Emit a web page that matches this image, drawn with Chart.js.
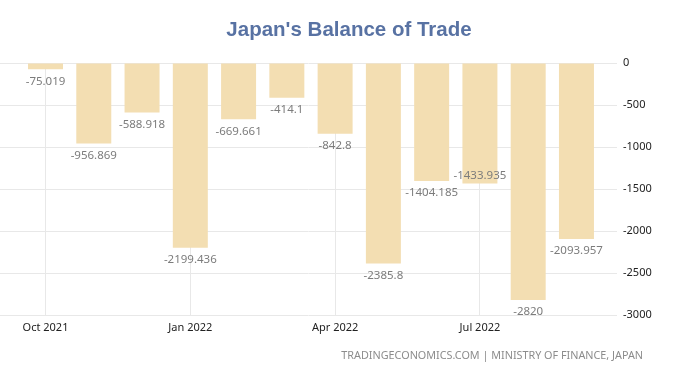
<!DOCTYPE html>
<html>
<head>
<meta charset="utf-8">
<script src="https://cdn.jsdelivr.net/npm/chart.js@4.4.0/dist/chart.umd.min.js"></script>
<style>
  html, body { margin: 0; padding: 0; background: #ffffff; }
  #wrap { width: 700px; height: 379px; position: relative; }
</style>
</head>
<body>
<div id="wrap"><canvas id="c" width="700" height="379"></canvas></div>
<script>
// ---- data ----
const months = ['Oct 2021','Nov 2021','Dec 2021','Jan 2022','Feb 2022','Mar 2022',
                'Apr 2022','May 2022','Jun 2022','Jul 2022','Aug 2022','Sep 2022'];
const balance = [-75.019, -956.869, -588.918, -2199.436, -669.661, -414.1,
                 -842.8, -2385.8, -1404.185, -1433.935, -2820, -2093.957];
const xTickIndices = [0, 3, 6, 9];
const yTicks = [0, -500, -1000, -1500, -2000, -2500, -3000];
const titleText = "Japan's Balance of Trade";
const sourceText = 'TRADINGECONOMICS.COM | MINISTRY OF FINANCE, JAPAN';

const points = balance.map((v, i) => ({ x: i, y: v }));

const labelPlugin = {
  id: 'valueLabels',
  afterDatasetsDraw(chart) {
    const ctx = chart.ctx;
    const meta = chart.getDatasetMeta(0);
    ctx.save();
    ctx.font = '11.5px "Noto Sans"';
    ctx.fillStyle = '#7c7c7c';
    ctx.textAlign = 'center';
    ctx.textBaseline = 'middle';
    meta.data.forEach((el, i) => {
      // label under bar end; the one that would collide with its neighbour is lifted
      const shift = (i === 9) ? -8 : 12;
      ctx.fillText(String(balance[i]), el.x, el.y + shift);
    });
    ctx.restore();
  }
};

const textPlugin = {
  id: 'texts',
  afterDraw(chart) {
    const ctx = chart.ctx;
    ctx.save();
    ctx.font = 'bold 20.5px "Liberation Sans", Arial, sans-serif';
    ctx.fillStyle = '#5872a3';
    ctx.textAlign = 'center';
    ctx.textBaseline = 'alphabetic';
    ctx.fillText(titleText, 349, 36);
    ctx.font = '10.8px "Noto Sans"';
    ctx.fillStyle = '#8c8c8c';
    ctx.textAlign = 'right';
    ctx.textBaseline = 'middle';
    ctx.fillText(sourceText, 643, 356);
    ctx.restore();
  }
};

new Chart(document.getElementById('c'), {
  type: 'bar',
  data: {
    datasets: [{
      data: points,
      backgroundColor: 'rgb(243,222,178)',
      borderWidth: 0,
      barPercentage: 0.725,
      categoryPercentage: 1.0
    }]
  },
  options: {
    responsive: false,
    animation: false,
    layout: { padding: { top: 63, right: 0, bottom: 40, left: 0 } },
    plugins: { legend: { display: false }, title: { display: false }, tooltip: { enabled: false } },
    scales: {
      x: {
        type: 'linear',
        offset: false,
        min: -0.943,
        max: 11.84,
        afterBuildTicks: (s) => { s.ticks = xTickIndices.map(v => ({ value: v })); },
        afterFit: (s) => { s.height = 24; },
        grid: { color: '#e8e8e8', drawTicks: false, offset: false },
        border: { display: false },
        ticks: {
          padding: 6,
          color: '#222',
          font: { family: '"Noto Sans"', size: 11 },
          callback: (v) => months[v]
        }
      },
      y: {
        position: 'right',
        min: -3000,
        max: 0,
        afterBuildTicks: (s) => { s.ticks = yTicks.map(v => ({ value: v })); },
        afterFit: (s) => { s.width = 83; },
        grid: { color: '#e8e8e8', drawTicks: false },
        border: { display: false },
        ticks: {
          padding: 6,
          color: '#222',
          font: { family: '"Noto Sans"', size: 11 },
          callback: (v) => String(v)
        }
      }
    }
  },
  plugins: [labelPlugin, textPlugin]
});
</script>
</body>
</html>
